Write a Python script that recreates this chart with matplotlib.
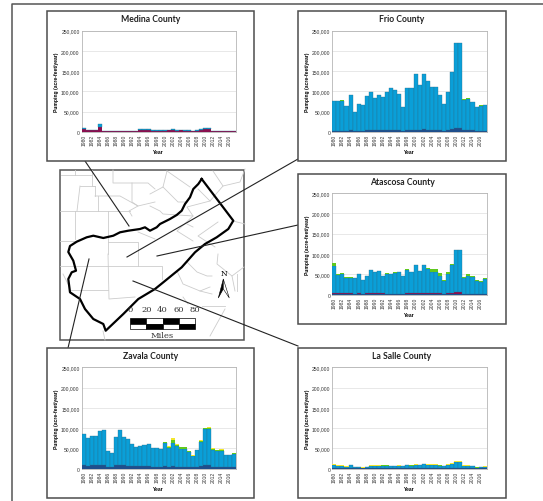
import numpy as np
import matplotlib
matplotlib.use('Agg')
import matplotlib.pyplot as plt
from matplotlib.patches import Rectangle, Polygon

W, H = 543, 502

years = list(range(1980, 2018))
y_ticks = [0, 50000, 100000, 150000, 200000, 250000]

# values in thousand acre-feet/year
medina_total = [9, 5, 5, 5, 19, 2, 2, 2, 2, 2, 2, 2, 2, 2, 7, 8, 8, 5, 5, 5, 6, 6, 7, 6, 6, 6, 4, 3, 5, 7, 11, 11, 3, 3, 3, 2, 2, 2]
medina_navy = [0.5] * 38
medina_maroon = [6, 3.5, 3.5, 3.5, 13, 1, 1, 1, 1, 1, 1, 1, 1, 1, 4, 5, 5, 3, 3, 3, 3, 4, 4, 3, 4, 3, 2.5, 1.5, 3, 4, 7, 7, 1.5, 1.5, 1.5, 1, 1, 1]
medina_green = [0] * 38
medina_yellow = [0] * 38

frio_total = [77, 77, 78, 63, 92, 50, 69, 67, 88, 98, 83, 91, 87, 99, 108, 103, 94, 60, 108, 109, 142, 116, 144, 126, 110, 110, 91, 68, 99, 148, 219, 219, 80, 84, 74, 61, 65, 67]
frio_navy = [2, 2, 2, 2, 3, 2, 2, 2, 3, 3, 3, 3, 3, 3, 4, 4, 3, 2, 3, 3, 5, 4, 6, 5, 4, 4, 3, 2, 4, 6, 9, 9, 3, 3, 3, 2, 2, 2]
frio_maroon = [0] * 38
frio_green = [0.5, 1, 1, 0, 1, 0, 0, 0, 0, 0, 0, 0, 0, 0, 0, 0, 0, 0, 0, 0, 0, 0, 0, 0, 0, 0, 0, 0, 1, 0, 0, 0, 2, 2, 1, 1, 1, 2]
frio_yellow = [0] * 38

atascosa_total = [77, 51, 53, 43, 43, 40, 52, 36, 45, 61, 57, 59, 45, 53, 52, 55, 57, 45, 62, 56, 72, 58, 73, 65, 62, 63, 54, 37, 57, 75, 111, 111, 44, 50, 45, 36, 34, 42]
atascosa_navy = [1] * 38
atascosa_maroon = [3, 3, 3, 2, 2, 1, 2, 1, 2, 2, 3, 3, 2, 1, 1, 1, 1, 1, 3, 2, 3, 3, 3, 3, 2, 2, 2, 1, 2, 3, 5, 5, 1, 1, 1, 1, 1, 1]
atascosa_green = [6, 3, 3, 1, 1, 0, 1, 0, 0, 1, 1, 1, 0, 1, 1, 1, 1, 0, 1, 0, 0, 0, 0, 2, 6, 7, 7, 3, 7, 1, 0, 0, 2, 4, 2, 2, 2, 3]
atascosa_yellow = [0] * 38

zavala_total = [85, 76, 80, 81, 94, 96, 43, 38, 78, 95, 79, 74, 62, 54, 57, 59, 60, 52, 50, 49, 67, 55, 76, 60, 54, 54, 44, 33, 46, 70, 101, 104, 50, 46, 48, 35, 35, 39]
zavala_navy = [8, 7, 8, 8, 9, 9, 3, 3, 8, 9, 8, 7, 6, 6, 6, 6, 6, 5, 5, 5, 6, 5, 6, 5, 5, 5, 4, 3, 4, 7, 10, 10, 4, 4, 4, 3, 3, 3]
zavala_maroon = [0] * 38
zavala_green = [0, 0, 0, 0, 0, 0, 0, 0, 0, 0, 0, 0, 0, 0, 0, 0, 0, 0, 0, 0, 2, 2, 7, 3, 4, 4, 2, 1, 1, 2, 2, 3, 3, 2, 3, 1, 1, 2]
zavala_yellow = [0, 0, 0, 0, 0, 0, 0, 0, 0, 0, 0, 0, 0, 0, 0, 0, 0, 0, 0, 0, 1, 1, 5, 1, 1, 1, 1, 1, 0, 1, 1, 3, 1, 1, 1, 1, 1, 1]

lasalle_total = [12, 9, 9, 6, 10, 4, 4, 3, 4, 8, 8, 8, 9, 9, 7, 7, 8, 7, 10, 9, 11, 10, 12, 11, 11, 11, 9, 7, 11, 13, 18, 18, 8, 8, 7, 4, 5, 6]
lasalle_navy = [0.5] * 38
lasalle_maroon = [0] * 38
lasalle_green = [0.5] * 38
lasalle_yellow = [3, 2, 2, 1, 1, 0.5, 0.5, 0.5, 0.5, 1, 1, 1, 1, 1, 1, 1, 1, 1, 1, 1, 1, 1, 1, 1, 2, 2, 1, 1, 2, 1, 1, 1, 1, 1, 1, 1, 1, 1]

counties = ['Medina County', 'Frio County', 'Atascosa County', 'Zavala County', 'La Salle County']

# aquifer outline on the map, (x, y) in picture pixels
aquifer_outline = [(201.7, 180), (233.3, 221.7), (228.3, 230), (216.7, 238.3), (205, 245), (195, 253.3), (181.7, 268.3), (163.3, 283.3),
                   (155, 290), (138.3, 300), (123.3, 315), (105.7, 331.7), (103.3, 325), (93.3, 320), (85, 310), (80, 300),
                   (70, 293.3), (68.3, 280), (71.7, 273.3), (76, 271.7), (73.3, 261.7), (68.3, 253), (70, 247), (76.7, 242.7),
                   (86.7, 238.3), (93.3, 236.7), (103.3, 239), (113.3, 236.7), (120, 233.3), (128.3, 231.7), (140, 230), (145, 228.3),
                   (150, 231.7), (156.7, 228.3), (160, 225), (170, 220), (176.7, 216), (181.7, 211.7), (185, 205), (190, 198.3),
                   (193.3, 190), (198.3, 185), (201.7, 180)]

county_lines = [
    [(60, 212), (130, 212)], [(61, 176), (92, 176)], [(75, 171), (75, 176)], [(92, 171), (92, 187), (95, 187), (95, 197)],
    [(80, 187), (95, 187)], [(80, 187), (77, 212)], [(95, 197), (120, 197), (138, 207), (129, 212), (132, 217)],
    [(98, 197), (98, 212)], [(75, 212), (75, 240)], [(108, 212), (108, 255)], [(60, 242), (75, 242)],
    [(113, 171), (113, 184), (148, 184), (155, 190)], [(132, 184), (132, 203), (138, 207), (155, 203)],
    [(138, 233), (155, 240)], [(167, 172), (163, 188), (150, 195)], [(163, 188), (178, 203), (187, 203)],
    [(167, 172), (190, 188)], [(213, 172), (223, 187), (210, 202), (198, 190)], [(223, 187), (240, 183), (245, 170)],
    [(210, 202), (187, 208), (193, 217), (177, 232), (193, 242)], [(193, 217), (163, 215), (160, 212), (150, 207)],
    [(218, 223), (198, 237), (215, 248)], [(233, 222), (245, 225)], [(193, 228), (187, 225)],
    [(108, 243), (138, 243), (138, 267)], [(60, 267), (108, 267)], [(108, 267), (162, 267), (162, 280)],
    [(108, 255), (109, 300), (135, 298)], [(63, 275), (69, 287)], [(70, 291), (108, 291)], [(103, 332), (105, 341)],
    [(177, 272), (183, 285), (200, 292), (210, 288)], [(187, 263), (197, 273), (207, 277), (212, 277)],
    [(200, 292), (212, 295)], [(183, 298), (188, 305)], [(202, 307), (220, 307), (225, 307)], [(225, 310), (210, 337)],
    [(218, 255), (217, 265), (232, 277), (244, 268)], [(232, 277), (235, 292)], [(237, 275), (237, 292)],
]

leader_lines = [[(85, 162), (129, 227)], [(298, 160), (127, 258)], [(298, 226), (157, 257)],
                [(298, 347), (133, 282)], [(89, 260), (68, 349)]]

scale_labels = ['0', '20', '40', '60', '80']


def draw_county(fig, box, ax_box, title, total, navy, maroon, green, yellow):
    bg.add_patch(Rectangle((box[0], box[1]), box[2] - box[0], box[3] - box[1], fc='white', ec='#4d4d4d', lw=1.1, zorder=5))
    bg.text((box[0] + box[2]) / 2, box[1] + 8, title, fontsize=6.2, fontweight='bold', family='Lato',
            ha='center', va='center', color='#222222', zorder=6)

    ax = fig.add_axes([ax_box[0] / W, 1 - ax_box[3] / H, (ax_box[2] - ax_box[0]) / W, (ax_box[3] - ax_box[1]) / H])
    x = np.arange(len(years))
    total = np.array(total) * 1000.0
    navy = np.array(navy) * 1000.0
    maroon = np.array(maroon) * 1000.0
    green = np.array(green) * 1000.0
    yellow = np.array(yellow) * 1000.0
    blue = total - navy - maroon - green - yellow

    bottom = np.zeros(len(years))
    for vals, col, edge in [(navy, '#1f4e8c', 'none'), (maroon, '#8a0f4f', 'none'), (blue, '#0a9fd8', '#2a6f8c'),
                            (green, '#5fc81e', 'none'), (yellow, '#f2e62e', 'none')]:
        ax.bar(x, vals, width=1.0, bottom=bottom, color=col, edgecolor=edge, linewidth=0.25, zorder=3)
        bottom += vals

    ax.set_xlim(-0.5, 37.5)
    ax.set_ylim(0, 250000)
    ax.set_yticks(y_ticks)
    ax.set_yticklabels([f'{v:,}' for v in y_ticks], fontsize=3.6, color='#333333')
    ax.set_xticks(x[::2])
    ax.set_xticklabels(years[::2], rotation=90, fontsize=3.6, color='#333333')
    ax.tick_params(length=0, pad=1.5)
    ax.grid(axis='y', color='#e4e4e4', lw=0.6, zorder=0)
    for s in ax.spines.values():
        s.set_color('#b5b5b5')
        s.set_linewidth(0.6)
    ax.set_xlabel('Year', fontsize=3.6, fontweight='bold', labelpad=2.5)
    ax.set_ylabel('Pumping (acre-feet/year)', fontsize=3.6, fontweight='bold', labelpad=1.5)


plt.rcParams['font.family'] = ['Liberation Sans', 'DejaVu Sans']
fig = plt.figure(figsize=(W / 100, H / 100), dpi=100)
bg = fig.add_axes([0, 0, 1, 1])
bg.set_xlim(0, W)
bg.set_ylim(H, 0)
bg.axis('off')

# outer frame, runs off the right and bottom of the picture
bg.plot([12, 12, W], [H, 5, 5], color='#555555', lw=1.1)

# map
bg.add_patch(Rectangle((60, 171), 184, 170, fc='white', ec='#555555', lw=1.1, zorder=1))
for line in county_lines:
    xs, ys = zip(*line)
    bg.plot(xs, ys, color='#cccccc', lw=0.6, zorder=1.5)
xs, ys = zip(*aquifer_outline)
bg.plot(xs, ys, color='black', lw=1.6, zorder=2, solid_joinstyle='round')
for line in leader_lines:
    xs, ys = zip(*line)
    bg.plot(xs, ys, color='#222222', lw=0.8, zorder=3)

# scale bar
for i in range(4):
    x0 = 130 + i * 16.25
    top_col, bot_col = ('black', 'white') if i % 2 == 0 else ('white', 'black')
    bg.add_patch(Rectangle((x0, 319), 16.25, 5.5, fc=top_col, ec='black', lw=0.5, zorder=3))
    bg.add_patch(Rectangle((x0, 324.5), 16.25, 5.5, fc=bot_col, ec='black', lw=0.5, zorder=3))
for i, lab in enumerate(scale_labels):
    bg.text(130 + i * 16.25, 310, lab, family='DejaVu Serif', fontsize=6, ha='center', va='center', color='#333333', zorder=4)
bg.text(162, 336, 'Miles', family='DejaVu Serif', fontsize=6, ha='center', va='center', color='#333333', zorder=4)

# north arrow
bg.text(223.7, 274, 'N', family='DejaVu Serif', fontsize=5.5, ha='center', va='center', zorder=4)
bg.add_patch(Polygon([(223.3, 280), (218.3, 299), (223.3, 290)], fc='black', ec='black', lw=0.4, zorder=4))
bg.add_patch(Polygon([(223.3, 280), (229.3, 299), (223.3, 290)], fc='white', ec='black', lw=0.4, zorder=4))

# (outer box, axes box) of each county in picture pixels
boxes = [((47, 12, 254, 162), (81.7, 31.7, 235.7, 133)),
         ((298, 12, 506, 162), (332.3, 31.7, 486.7, 132.7)),
         ((298, 174.5, 506, 325), (332.3, 194, 486.7, 295.7)),
         ((47, 349, 254, 499), (81.7, 368.3, 235.7, 469.7)),
         ((298, 348.5, 506, 499), (332.3, 368.3, 486.7, 469.7))]
series = [(medina_total, medina_navy, medina_maroon, medina_green, medina_yellow),
          (frio_total, frio_navy, frio_maroon, frio_green, frio_yellow),
          (atascosa_total, atascosa_navy, atascosa_maroon, atascosa_green, atascosa_yellow),
          (zavala_total, zavala_navy, zavala_maroon, zavala_green, zavala_yellow),
          (lasalle_total, lasalle_navy, lasalle_maroon, lasalle_green, lasalle_yellow)]

for (box, ax_box), name, s in zip(boxes, counties, series):
    draw_county(fig, box, ax_box, name, *s)

fig.savefig('out.png', dpi=100)
